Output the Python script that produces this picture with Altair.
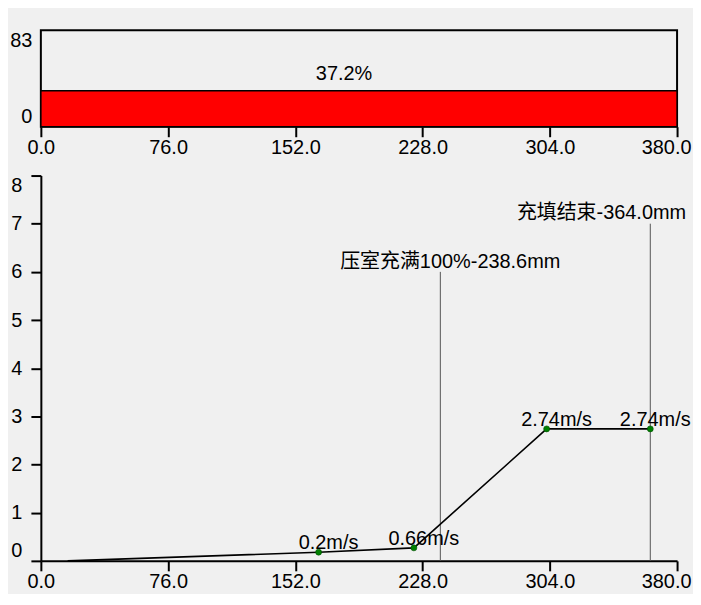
import altair as alt
import pandas as pd

FONT = "Liberation Sans, Noto Sans CJK SC"

# ---- data ----
x_ticks = [0, 76, 152, 228, 304, 380]
top_y_ticks = [0, 83]
bottom_y_ticks = [0, 1, 2, 3, 4, 5, 6, 7, 8]

fill_start = [0]
fill_end = [380]
fill_base = [0]
fill_value = [30.9]
fill_label = ["37.2%"]

line_x = [16.0, 165.9, 222.8, 302.1, 364.0]
line_y = [0.0, 0.18, 0.27, 2.74, 2.74]

pt_x = [165.9, 222.8, 302.1, 364.0]
pt_y = [0.18, 0.27, 2.74, 2.74]
pt_labels = ["0.2m/s", "0.66m/s", "2.74m/s", "2.74m/s"]

marker_x = [238.6, 364.0]
marker_base = [0, 0]
marker_top = [6, 7]
marker_labels = ["压室充满100%-238.6mm", "充填结束-364.0mm"]

# ---- tables ----
bar_df = pd.DataFrame({"x0": fill_start, "x1": fill_end, "y0": fill_base,
                       "y1": fill_value, "label": fill_label})
bar_df["mid"] = (bar_df["x0"] + bar_df["x1"]) / 2
line_df = pd.DataFrame({"x": line_x, "y": line_y})
pt_df = pd.DataFrame({"x": pt_x, "y": pt_y, "label": pt_labels,
                      "i": list(range(len(pt_x)))})
mk_df = pd.DataFrame({"x": marker_x, "y0": marker_base, "top": marker_top,
                      "label": marker_labels, "i": [0, 1]})

xscale = alt.Scale(domain=[0, 380], nice=False, zero=False)
last_offset = {"condition": {"test": "datum.value === 380", "value": -11}, "value": 0}

# ---- top panel ----
top_x_axis = alt.Axis(values=x_ticks, format=".1f", domain=False, labelFlush=False,
                      tickSize=10, labelPadding=1, labelOffset=last_offset)
top_y_axis = alt.Axis(values=top_y_ticks, format="d", domain=False, ticks=False,
                      labelFlush=True, labelPadding=9)

top_bar = alt.Chart(bar_df).mark_rect(color="#ff0000", stroke="black", strokeWidth=1.5).encode(
    x=alt.X("x0:Q", scale=xscale, axis=top_x_axis, title=None),
    x2="x1:Q",
    y=alt.Y("y0:Q", scale=alt.Scale(domain=[0, 83], nice=False), axis=top_y_axis, title=None),
    y2="y1:Q",
)
top_text = alt.Chart(bar_df).mark_text(fontSize=20, font=FONT, color="black",
                                       baseline="alphabetic", dx=-15, dy=-11).encode(
    x=alt.X("mid:Q", scale=xscale),
    y=alt.Y("y1:Q"),
    text="label:N",
)
top = alt.layer(top_bar, top_text).properties(
    width=639, height=97,
    view=alt.ViewBackground(stroke="black", strokeWidth=2),
)

# ---- bottom panel ----
bx_axis = alt.Axis(values=x_ticks, format=".1f", labelFlush=False, tickSize=10,
                   labelPadding=1, labelOffset=last_offset)
by_axis = alt.Axis(values=bottom_y_ticks, format="d", labelFlush=True, tickSize=10,
                   labelPadding=9)
yscale = alt.Scale(domain=[0, 8], nice=False)

rules = alt.Chart(mk_df).mark_rule(color="#555555", strokeWidth=1).encode(
    x=alt.X("x:Q", scale=xscale, axis=bx_axis, title=None),
    y=alt.Y("y0:Q", scale=yscale, axis=by_axis, title=None),
    y2="top:Q",
)
mk_text1 = alt.Chart(mk_df).transform_filter("datum.i == 0").mark_text(
    fontSize=20, font=FONT, color="black", baseline="alphabetic", align="center",
    dx=10, dy=-4).encode(x=alt.X("x:Q", scale=xscale), y=alt.Y("top:Q", scale=yscale),
                         text="label:N")
mk_text2 = alt.Chart(mk_df).transform_filter("datum.i == 1").mark_text(
    fontSize=20, font=FONT, color="black", baseline="alphabetic", align="right",
    dx=36, dy=-5).encode(x=alt.X("x:Q", scale=xscale), y=alt.Y("top:Q", scale=yscale),
                         text="label:N")
line = alt.Chart(line_df).mark_line(color="black", strokeWidth=1.6).encode(
    x=alt.X("x:Q", scale=xscale),
    y=alt.Y("y:Q", scale=yscale),
)
pts = alt.Chart(pt_df).mark_point(filled=True, fill="#008000", stroke="#004d00",
                                  strokeWidth=0.6, size=36, opacity=1).encode(
    x=alt.X("x:Q", scale=xscale),
    y=alt.Y("y:Q", scale=yscale),
)
pt_text = alt.Chart(pt_df).transform_filter("datum.i < 3").mark_text(
    fontSize=20, font=FONT, color="black", baseline="alphabetic", dx=10, dy=-3).encode(
    x=alt.X("x:Q", scale=xscale),
    y=alt.Y("y:Q", scale=yscale),
    text="label:N",
)
pt_text_last = alt.Chart(pt_df).transform_filter("datum.i == 3").mark_text(
    fontSize=20, font=FONT, color="black", baseline="alphabetic", dx=5, dy=-3).encode(
    x=alt.X("x:Q", scale=xscale),
    y=alt.Y("y:Q", scale=yscale),
    text="label:N",
)
bottom = alt.layer(rules, line, pts, pt_text, pt_text_last, mk_text1, mk_text2).properties(
    width=639, height=387,
)

chart = alt.vconcat(top, bottom, spacing=15).properties(
    background="#f0f0f0",
    padding={"left": 0, "top": 20, "right": 0, "bottom": 0},
).configure_view(stroke="transparent").configure_axis(
    labelFont=FONT, labelFontSize=20, labelColor="black",
    domainColor="black", domainWidth=2, tickColor="black", tickWidth=2,
    grid=False,
).configure_text(font=FONT)

chart.save("out.html", embed_options={"renderer": "svg", "actions": False})
